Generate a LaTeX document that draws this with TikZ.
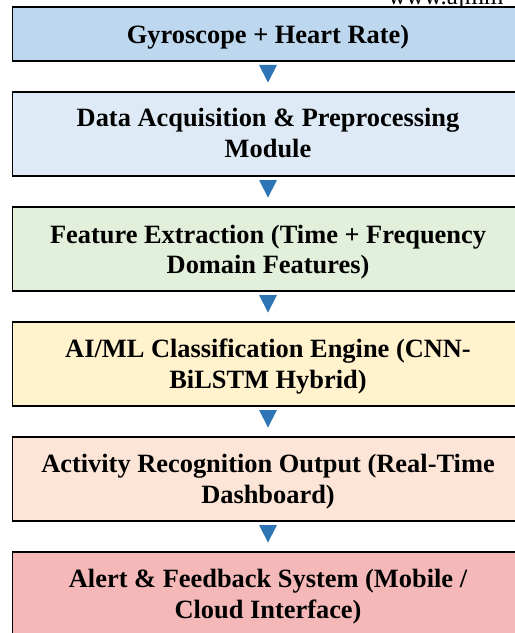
\documentclass[tikz,border=0pt]{standalone}
\usepackage{fontspec}
\setmainfont{Liberation Serif}
\usetikzlibrary{calc}
\definecolor{c1}{HTML}{BDD7EE}
\definecolor{c2}{HTML}{DEEBF7}
\definecolor{c3}{HTML}{E2EFDA}
\definecolor{c4}{HTML}{FFF2CC}
\definecolor{c5}{HTML}{FCE4D6}
\definecolor{c6}{HTML}{F4B8B8}
\definecolor{arrowc}{HTML}{2E75B6}
\begin{document}
\begin{tikzpicture}[x=1bp,y=-1bp,
  boxstyle/.style={draw=black, line width=1.1bp, minimum width=511bp, inner sep=0pt, outer sep=0pt, anchor=north west},
  lbl/.style={inner sep=0pt, anchor=base, font=\fontsize{26.5}{31}\selectfont\bfseries},
  edge/.style={line width=1.9bp, line cap=rect}]
\useasboundingbox (0,0) rectangle (515,633);
\clip (0,0) rectangle (515,633);
\node[anchor=base west, inner sep=0pt, font=\fontsize{25}{30}\selectfont] (web) at (388,5) {www.ajmm};
\node[boxstyle, fill=c1, minimum height=54bp] (b1) at (12.5,7) {};
\node[boxstyle, fill=c2, minimum height=84bp] (b2) at (12.5,92) {};
\node[boxstyle, fill=c3, minimum height=84bp] (b3) at (12.5,207) {};
\node[boxstyle, fill=c4, minimum height=84bp] (b4) at (12.5,322) {};
\node[boxstyle, fill=c5, minimum height=84bp] (b5) at (12.5,437) {};
\node[boxstyle, fill=c6, minimum height=84bp] (b6) at (12.5,552) {};
\foreach \b in {b1,b2,b3,b4,b5,b6}{
  \draw[edge] (\b.north west) -- (\b.south west) -- (\b.south east);
}
\node[lbl] (t1) at (268,44) {Gyroscope + Heart Rate)};
\node[lbl] (t2) at (268,127) {\begin{tabular}[t]{@{}c@{}}Data Acquisition \& Preprocessing\\Module\end{tabular}};
\node[lbl] (t3) at (268,243) {\begin{tabular}[t]{@{}c@{}}Feature Extraction (Time + Frequency\\Domain Features)\end{tabular}};
\node[lbl] (t4) at (268,357.5) {\begin{tabular}[t]{@{}c@{}}AI/ML Classification Engine (CNN-\\BiLSTM Hybrid)\end{tabular}};
\node[lbl] (t5) at (268,472.5) {\begin{tabular}[t]{@{}c@{}}Activity Recognition Output (Real-Time\\Dashboard)\end{tabular}};
\node[lbl] (t6) at (268,587.5) {\begin{tabular}[t]{@{}c@{}}Alert \& Feedback System (Mobile /\\Cloud Interface)\end{tabular}};
\foreach \b in {b1,b2,b3,b4,b5}{
  \fill[arrowc] ($(\b.south)+(-9,4)$) -- ($(\b.south)+(9,4)$) -- ($(\b.south)+(0,21.5)$) -- cycle;
}
\end{tikzpicture}
\end{document}
